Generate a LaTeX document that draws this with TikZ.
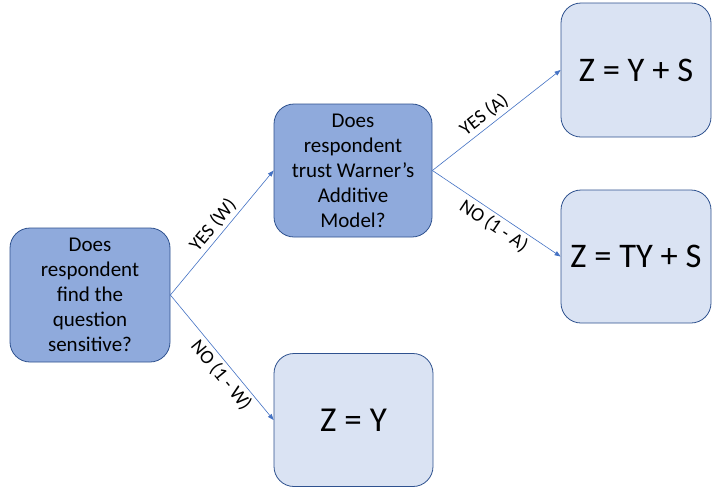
\documentclass[tikz,border=0pt]{standalone}
\usepackage{fontspec}
\setmainfont{Carlito}
\usetikzlibrary{arrows.meta}
\definecolor{darkfill}{HTML}{8FAADC}
\definecolor{lightfill}{HTML}{DAE3F3}
\definecolor{boxline}{HTML}{2F528F}
\definecolor{linkline}{HTML}{4472C4}
\begin{document}
\begin{tikzpicture}[x=1pt,y=-1pt,
  question/.style={draw=boxline,line width=0.8pt,fill=darkfill,rounded corners=20pt,
    align=center,inner sep=0pt,font=\fontsize{21}{25}\selectfont},
  outcome/.style={draw=boxline,line width=0.8pt,fill=lightfill,rounded corners=20pt,
    align=center,inner sep=0pt},
  link/.style={draw=linkline,line width=0.6pt,-{Triangle[length=6pt,width=4.5pt]}},
  branch/.style={sloped,font=\fontsize{19.5}{22}\selectfont,inner sep=3pt}]
\useasboundingbox (0,0) rectangle (712,491);
\fill[white] (0,0) rectangle (712,491);

\node[question,minimum width=160pt,minimum height=134pt] (sens) at (90,295)
  {Does\\respondent\\find the\\question\\sensitive?};
\node[question,minimum width=158pt,minimum height=133pt] (trust) at (353,170.5)
  {Does\\respondent\\trust Warner’s\\Additive\\Model?};
\node[outcome,minimum width=159pt,minimum height=133pt,font=\fontsize{35}{40}\selectfont] (zy) at (353.5,420)
  {Z = Y};
\node[outcome,minimum width=150pt,minimum height=134pt,font=\fontsize{34.5}{40}\selectfont] (zys) at (636,70)
  {Z = Y + S};
\node[outcome,minimum width=150pt,minimum height=133pt,font=\fontsize{34.5}{40}\selectfont] (ztys) at (636,256.5)
  {Z = TY + S};

\draw[link] (sens.east) -- node[branch,pos=0.5,above] {YES (W)} (trust.west);
\draw[link] (sens.east) -- node[branch,pos=0.58,below] {NO (1 - W)} (zy.west);
\draw[link] (trust.east) -- node[branch,pos=0.46,above] {YES (A)} (zys.west);
\draw[link] (trust.east) -- node[branch,pos=0.53,below] {NO (1 - A)} (ztys.west);
\end{tikzpicture}
\end{document}
